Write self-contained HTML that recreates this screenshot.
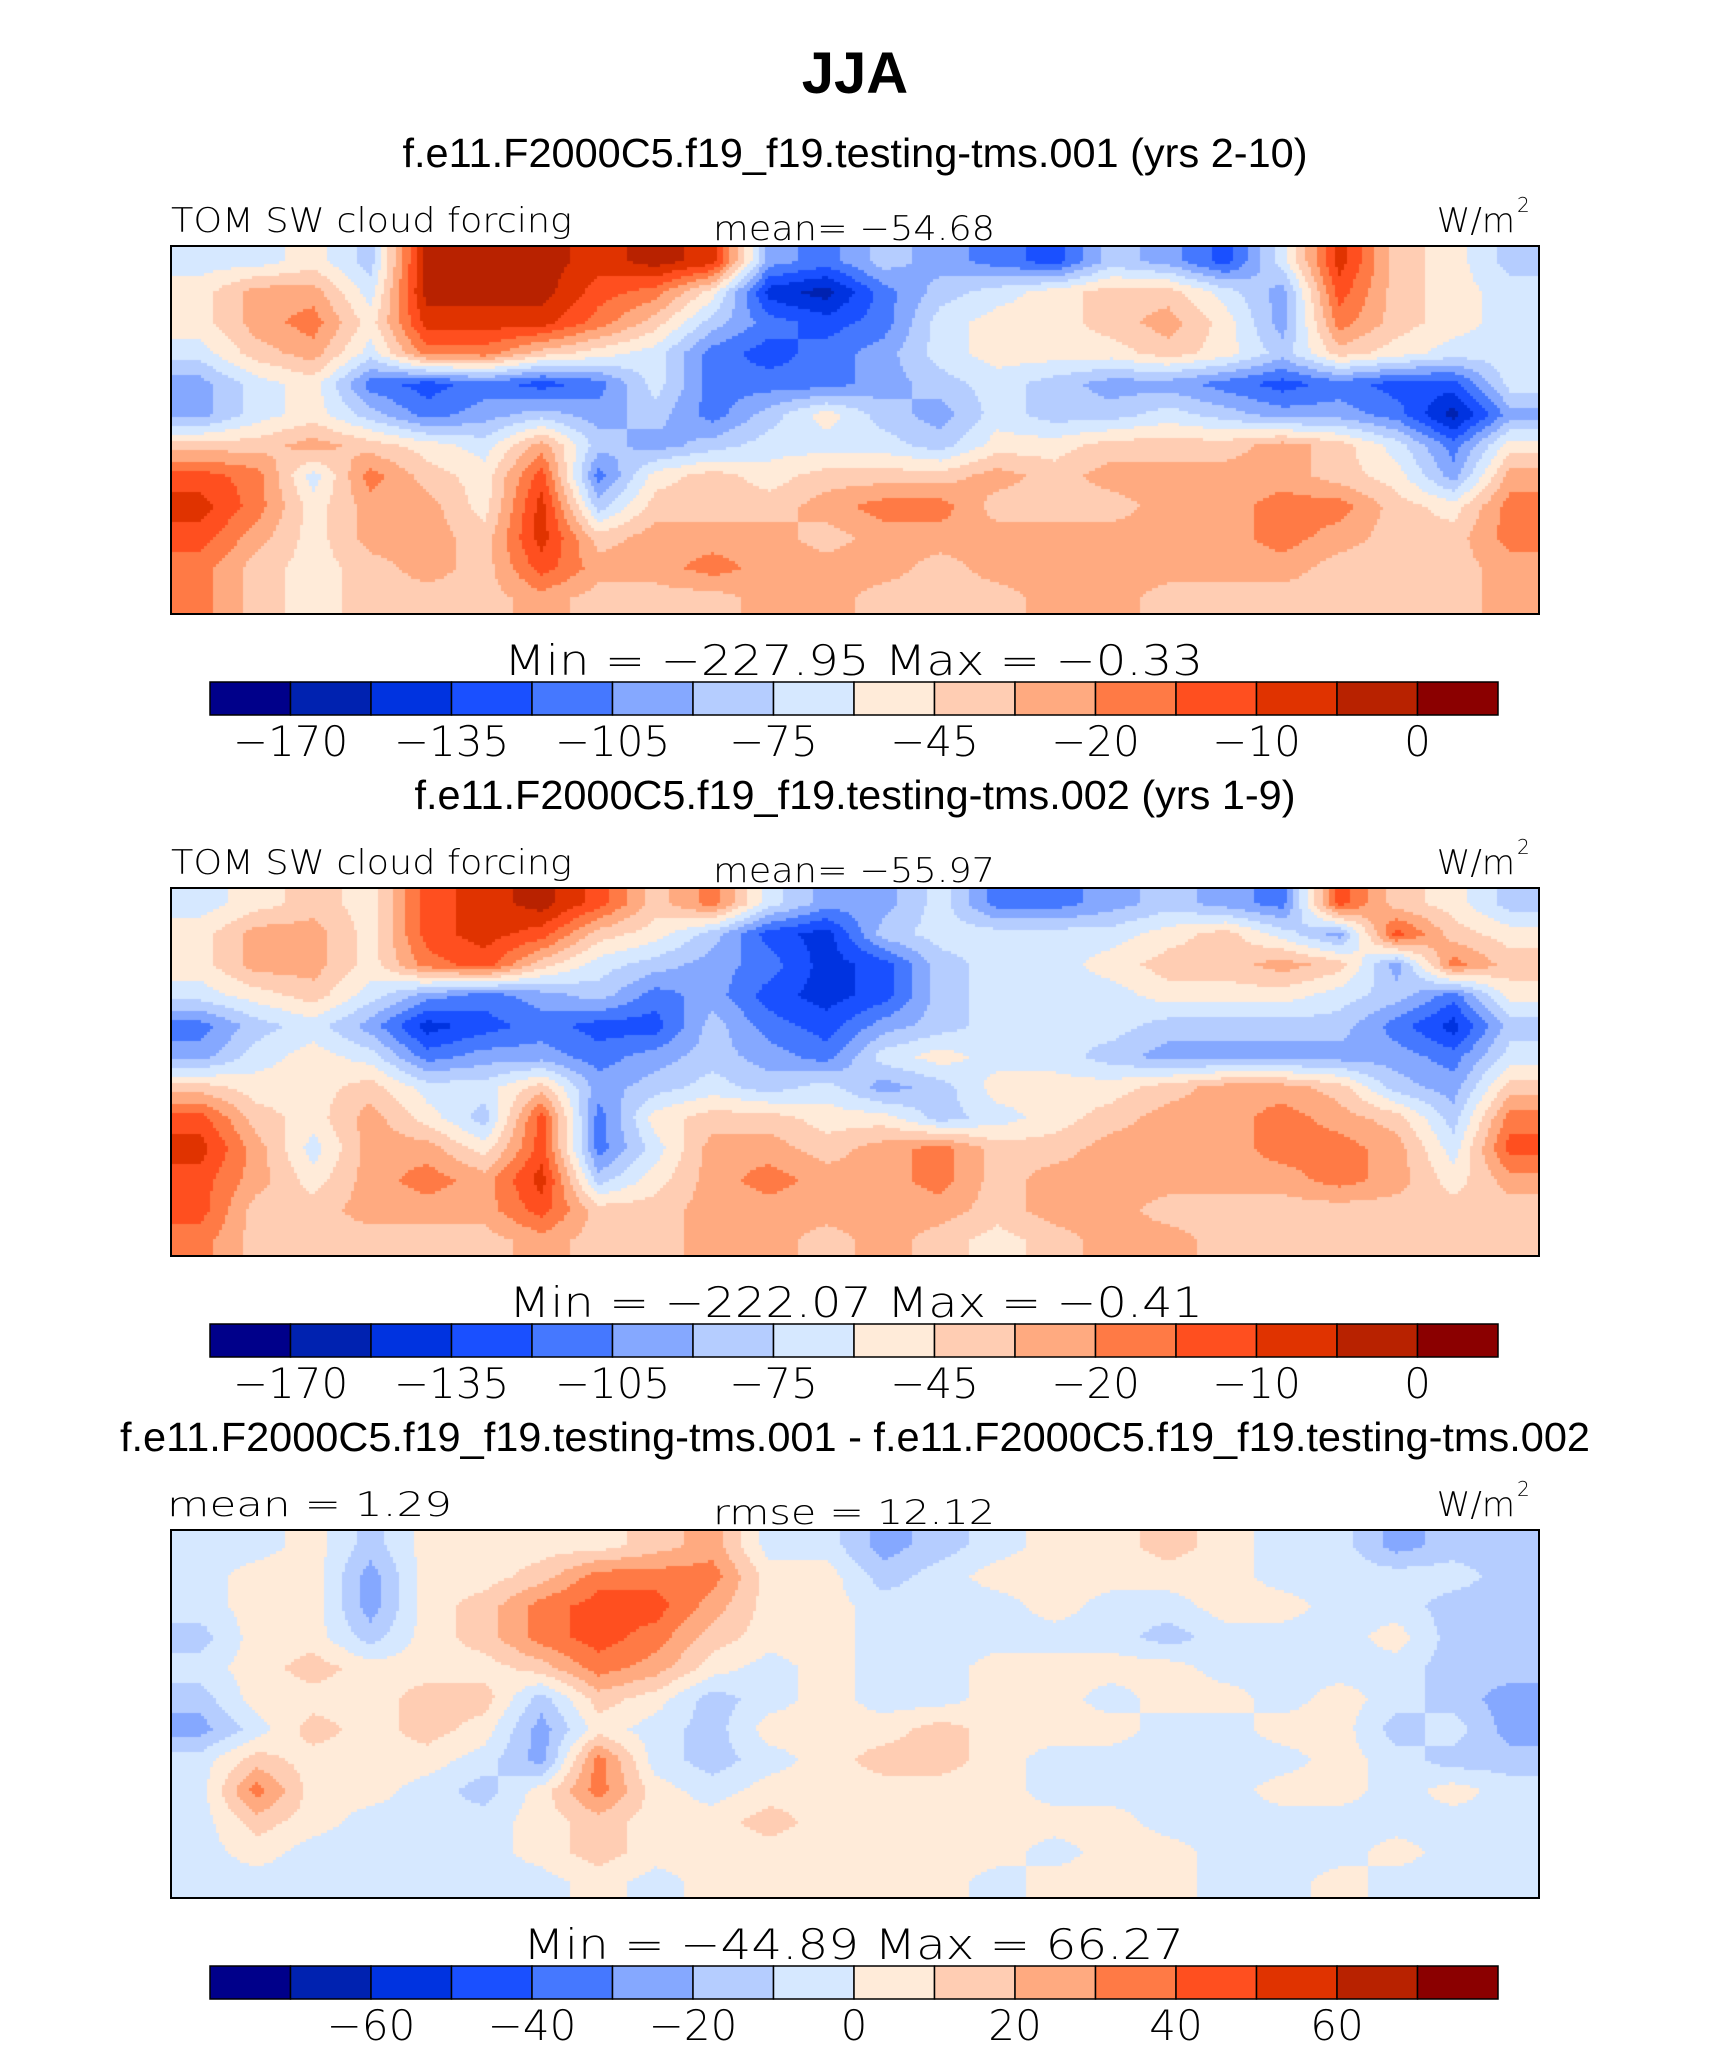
<!DOCTYPE html>
<html><head><meta charset="utf-8">
<style>
html,body{margin:0;padding:0;background:#fff;}
#wrap{position:relative;width:1710px;height:2064px;overflow:hidden;}
canvas{position:absolute;}
svg{position:absolute;left:0;top:0;}
.t{font-family:"Liberation Sans",sans-serif;fill:#000;}
.n{font-family:"DejaVu Sans","Liberation Sans",sans-serif;fill:#000;font-weight:200;}
</style></head><body>
<div id="wrap">
<canvas id="m0" width="1368" height="368" style="left:171px;top:246px"></canvas>
<canvas id="m1" width="1368" height="368" style="left:171px;top:888px"></canvas>
<canvas id="m2" width="1368" height="368" style="left:171px;top:1530px"></canvas>
<svg id="ov" width="1710" height="2064">
<text class="t" x="855" y="93" font-size="58" font-weight="bold" text-anchor="middle">JJA</text>
</svg>
</div>
<script>
const colors=["#00008a","#0022b0","#0033e0","#1a50ff","#4578ff","#85a8ff","#b5cdff","#d6e8ff","#ffebd9","#ffcdb3","#ffaa80","#ff7a45","#ff4f1f","#e03300","#b82200","#8b0000"];
const grid1=[
"7786eeeded5465436537d986",
"8aa7eeecb82146789975c987",
"8ab8dddb964347889a85b987",
"79a7bb987434578889869877",
"578434347444567655434337",
"578645656468657667655415",
"99a987a656777688999a9748",
"cb7b98c4898999a9aaaa985a",
"db8aa8d6999abb999aabb98b",
"ca8aa9d9aaa9aaaaaaaba99b",
"b989a9caabaaa9aaaaaa999a",
"b98999a999aa999aa999999a"];
const grid2=[
"7898cdec9b7557445654c986",
"8aa8cdc98632677778975c98",
"8aa8bc9765423677899a95b9",
"789754564532367778887648",
"467523433643567776666426",
"578745545654787765555547",
"988977956767568889aa9659",
"c98a86c4899886789aaba96b",
"da7aa8c47aa9ab99aaabba7c",
"ca8abad68abaab9aaaaaba8a",
"c99aaac99aaaaa9aa9999999",
"b99999a99aa9a989aa999999"];
const grid3=[
"778688889a77567889877566",
"7885889bbb88678888877776",
"788589bcca88777877887766",
"688689bcb988777776777866",
"7898889ba878778888777766",
"688899698678778878878765",
"579898587688898887788675",
"7988875b7678998777778766",
"7b88768b8788888777788787",
"798777898898888887777777",
"787777898888888788777877",
"777777787888887888778777"];
const grids=[grid1,grid2,grid3];
const cbTicks1=["\u2212170","\u2212135","\u2212105","\u221275","\u221245","\u221220","\u221210","0"];
const cbTickIdx1=[1,3,5,7,9,11,13,15];
const cbTicks3=["\u221260","\u221240","\u221220","0","20","40","60"];
const cbTickIdx3=[2,4,6,8,10,12,14];
const subtitles=["f.e11.F2000C5.f19_f19.testing-tms.001 (yrs 2-10)","f.e11.F2000C5.f19_f19.testing-tms.002 (yrs 1-9)","f.e11.F2000C5.f19_f19.testing-tms.001 - f.e11.F2000C5.f19_f19.testing-tms.002"];
const minmax=["Min = \u2212227.95 Max = \u22120.33","Min = \u2212222.07 Max = \u22120.41","Min = \u221244.89 Max = 66.27"];
const leftLab=["TOM SW cloud forcing","TOM SW cloud forcing","mean =   1.29"];
const midLab=["mean= \u221254.68","mean= \u221255.97","rmse =  12.12"];

function drawMap(id,g){
  const c=document.getElementById(id),ctx=c.getContext('2d');
  const W=c.width,H=c.height,nx=24,ny=12,s=3;
  const v=(i,j)=>parseInt(g[Math.max(0,Math.min(ny-1,j))][Math.max(0,Math.min(nx-1,i))],16)+0.5;
  for(let y=0;y<H;y+=s)for(let x=0;x<W;x+=s){
    const fx=(x+s/2)/W*nx-0.5,fy=(y+s/2)/H*ny-0.5;
    const i=Math.floor(fx),j=Math.floor(fy),tx=fx-i,ty=fy-j;
    const val=v(i,j)*(1-tx)*(1-ty)+v(i+1,j)*tx*(1-ty)+v(i,j+1)*(1-tx)*ty+v(i+1,j+1)*tx*ty;
    ctx.fillStyle=colors[Math.max(0,Math.min(15,Math.floor(val)))];
    ctx.fillRect(x,y,s,s);
  }
}
drawMap('m0',grids[0]);drawMap('m1',grids[1]);drawMap('m2',grids[2]);

const ov=document.getElementById('ov'),NS="http://www.w3.org/2000/svg";
function mk(tag,attrs,txt){const e=document.createElementNS(NS,tag);for(const k in attrs)e.setAttribute(k,attrs[k]);if(txt!==undefined)e.textContent=txt;ov.appendChild(e);return e;}
const subW=[905,881,1470];
const mmX=[[504,1203],[509,1203],[523,1184]];
for(let p=0;p<3;p++){
  const o=p*642;
  const sa={class:'t',x:855,y:167+o,'font-size':41,'text-anchor':'middle',textLength:subW[p],lengthAdjust:'spacingAndGlyphs'};
  let e=mk('text',sa,subtitles[p]);
  
  
  e=mk('text',{class:'n',x:p==2?167:171,y:232+o,'font-size':34,textLength:p==2?285:401,lengthAdjust:'spacingAndGlyphs'},leftLab[p]);
  
  
  e=mk('text',{class:'n',x:713,y:240+o,'font-size':34,textLength:282,lengthAdjust:'spacingAndGlyphs'},midLab[p]);
  
  
  e=mk('text',{class:'n',x:1515,y:232+o,'font-size':34,'text-anchor':'end'},'W/m');
  
  
  e=mk('text',{class:'n',x:1517,y:212+o,'font-size':20},'2');
  
  
  e=mk('rect',{x:171,y:246+o,width:1368,height:368,fill:'none',stroke:'#000','stroke-width':2});
  
  
  e=mk('text',{class:'n',x:mmX[p][0],y:675+o,'font-size':42,textLength:mmX[p][1]-mmX[p][0],lengthAdjust:'spacingAndGlyphs'},minmax[p]);
  
  
  const bx=210,bw=1288/16,by=682+o,bh=33;
  for(let k=0;k<16;k++){
    e=mk('rect',{x:bx+k*bw,y:by,width:bw,height:bh,fill:colors[k],stroke:'#000','stroke-width':1.5});
    
    
  }
  const ticks=p==2?cbTicks3:cbTicks1,idx=p==2?cbTickIdx3:cbTickIdx1;
  for(let k=0;k<ticks.length;k++){
    e=mk('text',{class:'n',x:bx+idx[k]*bw,y:756+o,'font-size':42,'text-anchor':'middle'},ticks[k]);
    
    
  }
}
</script>
</body></html>
